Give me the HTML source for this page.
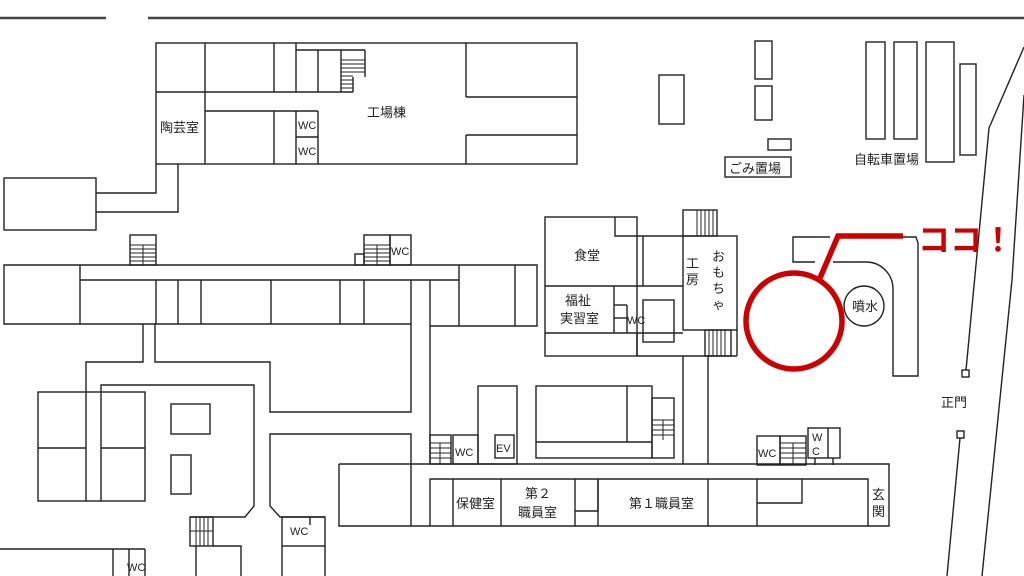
<!DOCTYPE html>
<html><head><meta charset="utf-8"><style>
body{margin:0;background:#fff;}
svg{display:block;}
text{font-family:"Liberation Sans","Noto Sans CJK JP",sans-serif;fill:#222;}
</style></head><body>
<svg width="1024" height="576" viewBox="0 0 1024 576" xmlns="http://www.w3.org/2000/svg">
<g fill="none" stroke="#222" stroke-width="1.4">
<line x1="0" y1="18" x2="106" y2="18" stroke-width="2.5" stroke="#444"/>
<line x1="148" y1="18" x2="1024" y2="18" stroke-width="2.5" stroke="#444"/>
<rect x="156" y="43" width="421" height="121"/>
<line x1="205" y1="43" x2="205" y2="164"/>
<line x1="156" y1="92" x2="205" y2="92"/>
<line x1="205" y1="92" x2="353" y2="92"/>
<line x1="205" y1="111" x2="318" y2="111"/>
<line x1="274" y1="43" x2="274" y2="92"/><line x1="274" y1="111" x2="274" y2="164"/>
<line x1="296" y1="43" x2="296" y2="92"/><line x1="296" y1="111" x2="296" y2="164"/>
<line x1="318" y1="50" x2="318" y2="92"/><line x1="318" y1="111" x2="318" y2="164"/>
<line x1="296" y1="50" x2="365" y2="50"/>
<line x1="365" y1="50" x2="365" y2="77"/>
<line x1="341" y1="50" x2="341" y2="92"/><line x1="353" y1="77" x2="353" y2="92"/>
<line x1="296" y1="137" x2="318" y2="137"/>
<line x1="466" y1="43" x2="466" y2="97"/><line x1="466" y1="97" x2="577" y2="97"/>
<line x1="466" y1="135" x2="466" y2="164"/><line x1="466" y1="135" x2="577" y2="135"/>
<rect x="4" y="178" width="92" height="52"/>
<polyline points="96,193 156,193 156,164"/>
<polyline points="96,212 178,212 178,164"/>
<polyline points="411,324 4,324 4,265 537,265 537,326 430,326"/>
<line x1="80" y1="280" x2="459" y2="280"/>
<line x1="80" y1="265" x2="80" y2="324"/>
<line x1="156" y1="280" x2="156" y2="324"/><line x1="178" y1="280" x2="178" y2="324"/>
<line x1="201" y1="280" x2="201" y2="324"/><line x1="271" y1="280" x2="271" y2="324"/>
<line x1="340" y1="280" x2="340" y2="324"/><line x1="364" y1="280" x2="364" y2="324"/>
<line x1="411" y1="280" x2="411" y2="324"/>
<line x1="430" y1="280" x2="430" y2="326"/><line x1="459" y1="265" x2="459" y2="326"/>
<line x1="515" y1="265" x2="515" y2="326"/>
<rect x="130" y="235" width="26" height="30"/>
<rect x="355" y="254" width="9" height="11"/>
<rect x="364" y="235" width="26" height="30"/>
<rect x="390" y="235" width="21" height="30"/>
</g>
<g stroke="#222" stroke-width="1">
<line x1="130" y1="245" x2="156" y2="245"/><line x1="130" y1="249" x2="156" y2="249"/><line x1="130" y1="253" x2="156" y2="253"/><line x1="130" y1="257" x2="156" y2="257"/><line x1="130" y1="261" x2="156" y2="261"/><line x1="143" y1="245" x2="143" y2="265"/>
<line x1="364" y1="245" x2="390" y2="245"/><line x1="364" y1="249" x2="390" y2="249"/><line x1="364" y1="253" x2="390" y2="253"/><line x1="364" y1="257" x2="390" y2="257"/><line x1="364" y1="261" x2="390" y2="261"/><line x1="377" y1="245" x2="377" y2="265"/>
<line x1="341" y1="60" x2="365" y2="60"/><line x1="341" y1="64" x2="365" y2="64"/><line x1="341" y1="68" x2="365" y2="68"/><line x1="341" y1="72" x2="365" y2="72"/><line x1="341" y1="76" x2="353" y2="76"/><line x1="341" y1="80" x2="353" y2="80"/><line x1="341" y1="84" x2="353" y2="84"/><line x1="341" y1="88" x2="353" y2="88"/>
</g>
<g fill="none" stroke="#222" stroke-width="1.4">
<polyline points="143,324 143,362 86,362 86,501"/>
<polyline points="155,324 155,362 270,362 270,412 411,412 411,324"/>
<polyline points="101,501 101,385 254,385 254,506 245,517 190,517"/>
<polyline points="411,464 411,434 270,434 270,506 280,517 325,517"/>
<rect x="38" y="392" width="107" height="109"/>
<line x1="38" y1="448" x2="86" y2="448"/><line x1="101" y1="448" x2="145" y2="448"/>
<rect x="171" y="404" width="39" height="30"/>
<rect x="171" y="455" width="20" height="39"/>
<rect x="190" y="517" width="23" height="29"/>
<polyline points="213,546 241,546 241,576"/>
<line x1="196" y1="546" x2="196" y2="576"/>
<rect x="282" y="517" width="43" height="29"/>
<line x1="282" y1="546" x2="282" y2="576"/><line x1="325" y1="546" x2="325" y2="576"/>
<line x1="310" y1="517" x2="310" y2="525"/>
<line x1="0" y1="549" x2="145" y2="549"/>
<line x1="113" y1="549" x2="113" y2="576"/><line x1="129" y1="549" x2="129" y2="576"/><line x1="145" y1="549" x2="145" y2="576"/>
<line x1="430" y1="326" x2="430" y2="464"/>
<rect x="430" y="435" width="21" height="29"/>
<rect x="453" y="435" width="25" height="29"/>
<rect x="478" y="386" width="39" height="78"/>
<rect x="495" y="435" width="19" height="23"/>
<polyline points="339,464 889,464 889,526 339,526 339,464"/>
<polyline points="430,526 430,479 868,479 868,526"/>
<line x1="411" y1="464" x2="411" y2="526"/>
<line x1="453" y1="479" x2="453" y2="526"/>
<line x1="501" y1="479" x2="501" y2="526"/>
<line x1="575" y1="479" x2="575" y2="526"/>
<polyline points="575,511 598,511 598,479"/>
<line x1="598" y1="479" x2="598" y2="526"/>
<line x1="708" y1="479" x2="708" y2="526"/>
<line x1="757" y1="479" x2="757" y2="526"/>
<polyline points="757,503 802,503 802,479"/>
<rect x="757" y="436" width="23" height="29"/>
<rect x="780" y="436" width="26" height="29"/>
<rect x="808" y="428" width="32" height="30"/>
<line x1="828" y1="428" x2="828" y2="458"/>
<line x1="815" y1="458" x2="815" y2="465"/><line x1="833" y1="458" x2="833" y2="465"/>
<rect x="536" y="386" width="116" height="72"/>
<line x1="536" y1="442" x2="652" y2="442"/>
<line x1="627" y1="386" x2="627" y2="442"/>
<rect x="652" y="398" width="22" height="60"/>
<line x1="683" y1="356" x2="683" y2="464"/>
<line x1="708" y1="356" x2="708" y2="464"/>
<rect x="545" y="217" width="92" height="139"/>
<line x1="545" y1="286" x2="683" y2="286"/>
<line x1="545" y1="333" x2="683" y2="333"/>
<polyline points="615,217 615,236 637,236"/>
<line x1="637" y1="236" x2="683" y2="236"/>
<line x1="643" y1="236" x2="643" y2="286"/>
<line x1="614" y1="286" x2="614" y2="333"/>
<line x1="627" y1="305" x2="627" y2="333"/>
<rect x="643" y="300" width="31" height="42"/>
<line x1="637" y1="333" x2="637" y2="356"/>
<line x1="614" y1="305" x2="627" y2="305"/><line x1="614" y1="318" x2="627" y2="318"/>
<line x1="637" y1="356" x2="737" y2="356"/>
<rect x="683" y="236" width="54" height="94"/>
<line x1="737" y1="330" x2="737" y2="356"/>
<rect x="705" y="330" width="26" height="26"/>
<rect x="683" y="210" width="34" height="26"/>
<rect x="659" y="75" width="25" height="49"/>
<rect x="755" y="41" width="17" height="38"/>
<rect x="755" y="86" width="17" height="34"/>
<rect x="768" y="139" width="23" height="11"/>
<rect x="725" y="157" width="66" height="20"/>
<rect x="866" y="42" width="19" height="97"/>
<rect x="894" y="42" width="23" height="97"/>
<rect x="926" y="42" width="28" height="120"/>
<rect x="960" y="64" width="16" height="91"/>
<polyline points="815,262 793,262 793,237 830,237"/>
<polyline points="903,237 916,237 918,243 918,376 893,376 893,300"/>
<path d="M833,262 L866,262 A27,27 0 0 1 893,289 L893,300"/>
<circle cx="864" cy="306" r="20"/>
<polyline points="1024,47 989,128 966,370"/>
<polyline points="1024,95 1012,280 982,576"/>
<line x1="960" y1="438" x2="947" y2="576"/>
<rect x="962" y="370" width="7" height="7"/>
<rect x="957" y="431" width="7" height="7"/>
</g>
<g stroke="#222" stroke-width="1">
<line x1="697" y1="210" x2="697" y2="236"/><line x1="701" y1="210" x2="701" y2="236"/><line x1="705" y1="210" x2="705" y2="236"/><line x1="709" y1="210" x2="709" y2="236"/><line x1="713" y1="210" x2="713" y2="236"/>
<line x1="709" y1="330" x2="709" y2="356"/><line x1="713" y1="330" x2="713" y2="356"/><line x1="717" y1="330" x2="717" y2="356"/><line x1="721" y1="330" x2="721" y2="356"/><line x1="725" y1="330" x2="725" y2="356"/>
<line x1="652" y1="420" x2="674" y2="420"/><line x1="652" y1="425" x2="674" y2="425"/><line x1="652" y1="430" x2="674" y2="430"/><line x1="652" y1="435" x2="674" y2="435"/><line x1="663" y1="420" x2="663" y2="440"/>
<line x1="430" y1="443" x2="451" y2="443"/><line x1="430" y1="448" x2="451" y2="448"/><line x1="430" y1="453" x2="451" y2="453"/><line x1="430" y1="458" x2="451" y2="458"/><line x1="440" y1="443" x2="440" y2="464"/>
<line x1="780" y1="443" x2="806" y2="443"/><line x1="780" y1="448" x2="806" y2="448"/><line x1="780" y1="453" x2="806" y2="453"/><line x1="780" y1="458" x2="806" y2="458"/><line x1="793" y1="443" x2="793" y2="465"/>
<line x1="196" y1="517" x2="196" y2="546"/><line x1="200" y1="517" x2="200" y2="546"/><line x1="204" y1="517" x2="204" y2="546"/><line x1="208" y1="517" x2="208" y2="546"/><line x1="190" y1="531" x2="213" y2="531"/>
</g>
<g fill="none" stroke="#cc0000" stroke-width="5.5">
<circle cx="794" cy="321" r="48"/>
<polyline points="820,278 838,236 903,236" stroke-linejoin="miter"/>
</g>
<text x="918" y="251" font-size="32" font-weight="bold" style="fill:#cc0000">ココ！</text>
<g font-size="13">
<text x="160" y="132">陶芸室</text>
<text x="367" y="117">工場棟</text>
<text x="298" y="129" font-size="11">WC</text>
<text x="298" y="155" font-size="11">WC</text>
<text x="391" y="255" font-size="11">WC</text>
<text x="574" y="260">食堂</text>
<text x="565" y="305">福祉</text>
<text x="560" y="323">実習室</text>
<text x="627" y="324" font-size="11">WC</text>
<text x="686" y="268">工</text>
<text x="686" y="284">房</text>
<text x="712" y="261">お</text>
<text x="712" y="277">も</text>
<text x="712" y="293">ち</text>
<text x="712" y="309">ゃ</text>
<text x="852" y="311">噴水</text>
<text x="729" y="173">ごみ置場</text>
<text x="854" y="164">自転車置場</text>
<text x="941" y="407">正門</text>
<text x="455" y="456" font-size="11">WC</text>
<text x="496" y="452" font-size="11">EV</text>
<text x="758" y="457" font-size="11">WC</text>
<text x="812" y="441" font-size="11">W</text>
<text x="812" y="455" font-size="11">C</text>
<text x="456" y="508">保健室</text>
<text x="525" y="498">第２</text>
<text x="518" y="517">職員室</text>
<text x="629" y="508">第１職員室</text>
<text x="872" y="499">玄</text>
<text x="872" y="516">関</text>
<text x="290" y="535" font-size="11">WC</text>
<text x="127" y="571" font-size="11">WC</text>
</g>
</svg>
</body></html>
